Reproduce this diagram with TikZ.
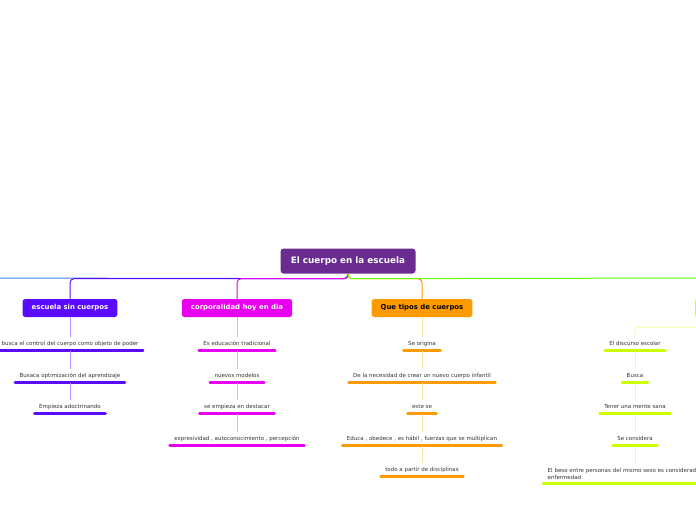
\documentclass[tikz,border=0pt]{standalone}
\usepackage{fontspec}
\setmainfont{DejaVu Sans}
\usetikzlibrary{positioning}
\definecolor{rootpurple}{HTML}{6A2C91}
\definecolor{violetbr}{HTML}{5A0BFF}
\definecolor{violetlt}{HTML}{B894FF}
\definecolor{magentabr}{HTML}{E800F0}
\definecolor{magentalt}{HTML}{F5A3FF}
\definecolor{orangebr}{HTML}{FF9A00}
\definecolor{orangelt}{HTML}{FFDCA3}
\definecolor{limebr}{HTML}{CCFF00}
\definecolor{limelt}{HTML}{EEFFA3}
\definecolor{greenbr}{HTML}{66FF00}
\definecolor{bluebr}{HTML}{3C86F5}
\tikzset{
	root/.style={fill=rootpurple, text=white, rounded corners=3, font=\bfseries\fontsize{8.8}{10}\selectfont, minimum width=135, minimum height=25},
	topic/.style={fill=#1, rounded corners=2.5, text=white, font=\bfseries\fontsize{6.9}{8}\selectfont, minimum height=18, inner xsep=9},
	item/.style={font=\fontsize{5.5}{7}\selectfont, text=black!80, inner xsep=4.5, inner ysep=3.8, text height=4, text depth=1.2},
	bar/.style={line width=2.5, line cap=round},
	link/.style={line width=1, rounded corners=4},
}
\begin{document}
\begin{tikzpicture}[x=1pt, y=-1pt]
	\useasboundingbox (0,0) rectangle (696,520);
	\clip (0,0) rectangle (696,520);

	\node[root] (root) at (348,261) {El cuerpo en la escuela};
	\node[topic=violetbr] (esc) at (70,308) {escuela sin cuerpos};
	\node[topic=magentabr] (cor) at (237,308) {corporalidad hoy en dia};
	\node[topic=orangebr, text=black] (tip) at (422,308) {Que tipos de cuerpos};
	\node[topic=limebr, anchor=west, minimum width=110] (lim) at (695,308) {};
	\coordinate (leftend) at (-20,278);
	\coordinate (rightend) at (720,278);

	\draw[link, bluebr] (root.south) -- ++(0,5) -- (leftend);
	\draw[link, violetbr] (root.south) -- ++(0,5) -| (esc.north);
	\draw[link, magentabr] (root.south) -- ++(0,5) -| (cor.north);
	\draw[link, orangebr] (root.south) -- ++(0,5) -| (tip.north);
	\draw[link, greenbr] (root.south) -- ++(0,5) -- (rightend);

	% escuela sin cuerpos
	\node[item] (e1) at (70,344) {busca el control del cuerpo como objeto de poder};
	\node[item] (e2) at (70,376) {Busaca optimización del aprendizaje};
	\node[item] (e3) at (70,407) {Empieza adoctrinando};
	\foreach \n in {e1,e2,e3}
		\draw[bar, violetbr] (\n.south west) -- (\n.south east);
	\draw[link, violetlt] (esc.south) -- (e1.north);
	\draw[link, violetlt] (e1.south) -- (e2.north);
	\draw[link, violetlt] (e2.south) -- (e3.north);

	% corporalidad hoy en dia
	\node[item] (c1) at (237,344) {Es educación tradicional};
	\node[item] (c2) at (237,376) {nuevos modelos};
	\node[item] (c3) at (237,407) {se empieza en destacar};
	\node[item] (c4) at (237,439) {expresividad , autoconocimiento , percepción};
	\foreach \n in {c1,c2,c3,c4}
		\draw[bar, magentabr] (\n.south west) -- (\n.south east);
	\draw[link, magentalt] (cor.south) -- (c1.north);
	\draw[link, magentalt] (c1.south) -- (c2.north);
	\draw[link, magentalt] (c2.south) -- (c3.north);
	\draw[link, magentalt] (c3.south) -- (c4.north);

	% que tipos de cuerpos
	\node[item] (q1) at (422,344) {Se origina};
	\node[item] (q2) at (422,376) {De la necesidad de crear un nuevo cuerpo infantil};
	\node[item] (q3) at (422,407) {este se};
	\node[item] (q4) at (422,439) {Educa , obedece , es hábil , fuerzas que se multiplican};
	\node[item] (q5) at (422,470) {todo a partir de disciplinas};
	\foreach \n in {q1,q2,q3,q4,q5}
		\draw[bar, orangebr] (\n.south west) -- (\n.south east);
	\draw[link, orangelt] (tip.south) -- (q1.north);
	\draw[link, orangelt] (q1.south) -- (q2.north);
	\draw[link, orangelt] (q2.south) -- (q3.north);
	\draw[link, orangelt] (q3.south) -- (q4.north);
	\draw[link, orangelt] (q4.south) -- (q5.north);

	% discurso escolar
	\node[item] (d1) at (635,344) {El discurso escolar};
	\node[item] (d2) at (635,376) {Busca};
	\node[item] (d3) at (635,407) {Tener una mente sana};
	\node[item] (d4) at (635,439) {Se considera};
	\node[item, anchor=north west, align=left, text width=220, text height=, text depth=, inner ysep=4] (d5) at (543,464) {El beso entre personas del mismo sexo es considerado una\\enfermedad};
	\foreach \n in {d1,d2,d3,d4,d5}
		\draw[bar, limebr] (\n.south west) -- (\n.south east);
	\draw[link, limelt] (lim.south) -- ++(0,10) -| (d1.north);
	\draw[link, limelt] (d1.south) -- (d2.north);
	\draw[link, limelt] (d2.south) -- (d3.north);
	\draw[link, limelt] (d3.south) -- (d4.north);
	\draw[link, limelt] (d4.south) -- (d4.south |- d5.north);
\end{tikzpicture}
\end{document}
